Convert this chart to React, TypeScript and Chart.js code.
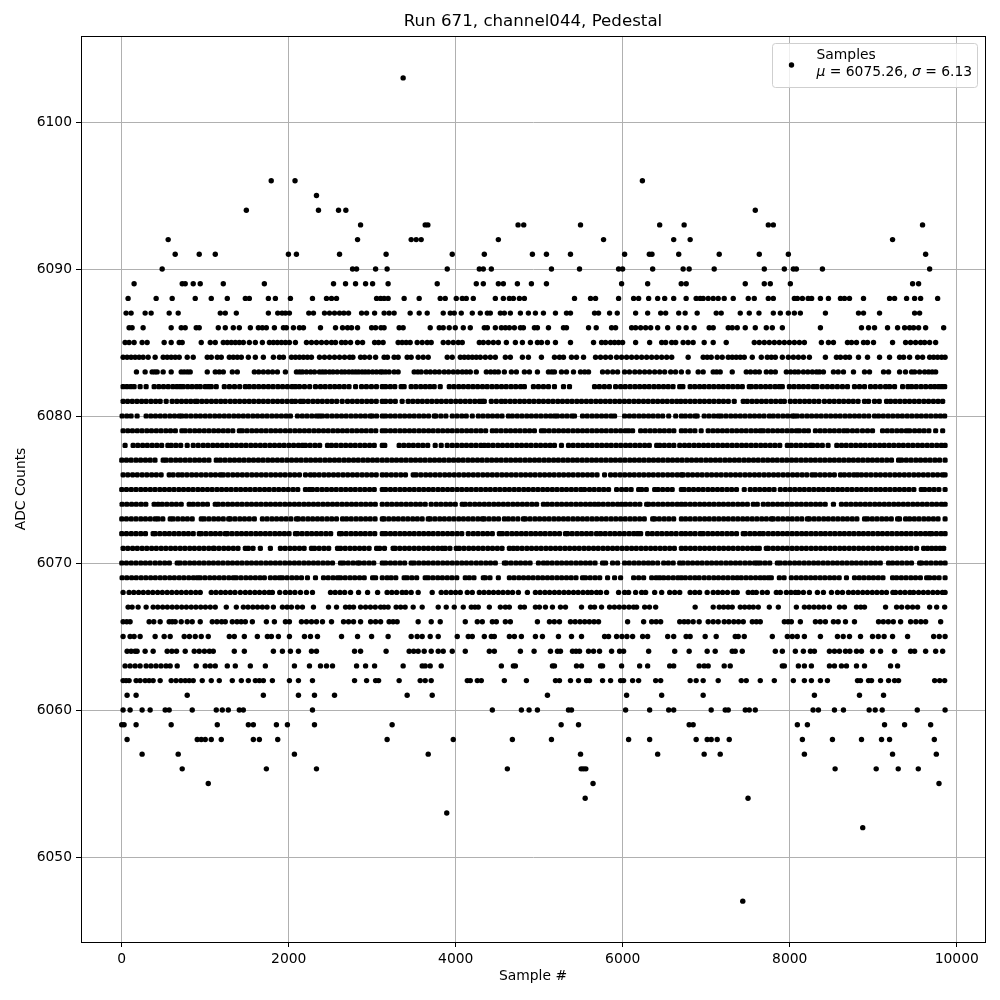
import React, { useEffect, useRef } from "react";
import { Chart, registerables } from "chart.js";

Chart.register(...registerables);

const titleText = "Run 671, channel044, Pedestal";
const xLabel = "Sample #";
const yLabel = "ADC Counts";
const xTicks = [0, 2000, 4000, 6000, 8000, 10000];
const yTicks = [6050, 6060, 6070, 6080, 6090, 6100];
const seriesName = "Samples";

const adc6103 = [3370];
const adc6096 = [1790, 2075, 6235];
const adc6095 = [2332];
const adc6094 = [1492, 2356, 2596, 2684, 7587];
const adc6093 = [2860, 3634, 3666, 4746, 4814, 5494, 6442, 6735, 7743, 7803, 9590];
const adc6092 = [556, 2824, 3466, 3526, 3586, 4510, 5770, 6610, 6807, 9231];
const adc6091 = [640, 928, 1120, 1996, 2092, 2608, 3166, 3958, 4342, 4918, 5086, 5374, 6022, 6318, 6350, 6670, 7155, 7635, 7983, 9627];
const adc6090 = [484, 2764, 2812, 3040, 3178, 3898, 4282, 4330, 4426, 5146, 5482, 5950, 5998, 6358, 6723, 6795, 7095, 7695, 7935, 8043, 8079, 8391, 9675];
const adc6089 = [148, 724, 760, 856, 940, 1216, 1708, 2536, 2680, 2800, 2920, 3004, 3190, 3778, 4246, 4330, 4510, 4570, 4738, 4906, 5086, 5986, 6298, 6700, 6760, 7467, 7695, 7767, 8007, 9471, 9543];
const adc6088 = [76, 412, 604, 880, 1072, 1264, 1480, 1528, 1756, 1840, 2020, 2284, 2452, 2512, 2572, 3052, 3100, 3142, 3190, 3382, 3562, 3814, 3874, 4006, 4078, 4126, 4210, 4474, 4570, 4642, 4690, 4762, 4822, 5422, 5614, 5674, 5950, 6130, 6190, 6310, 6418, 6502, 6610, 6759, 6879, 6927, 6963, 7023, 7083, 7143, 7215, 7323, 7503, 7575, 7743, 7803, 8055, 8091, 8151, 8220, 8262, 8367, 8463, 8607, 8655, 8715, 8883, 9195, 9255, 9399, 9495, 9567, 9771];
const adc6087 = [52, 112, 280, 352, 568, 676, 1180, 1240, 1372, 1756, 1868, 1920, 1960, 2008, 2240, 2296, 2428, 2488, 2548, 2608, 2660, 2716, 2872, 2932, 3028, 3142, 3202, 3262, 3454, 3562, 3658, 3850, 3934, 3982, 4066, 4198, 4294, 4378, 4414, 4534, 4582, 4654, 4774, 4870, 4954, 5050, 5194, 5326, 5374, 5662, 5710, 5842, 5934, 6154, 6298, 6454, 6514, 6670, 6747, 6891, 7119, 7179, 7407, 7515, 7631, 7803, 7887, 7983, 8055, 8127, 8427, 8823, 8883, 9075, 9495, 9555];
const adc6086 = [88, 124, 256, 592, 712, 760, 892, 928, 1156, 1240, 1336, 1408, 1540, 1636, 1684, 1732, 1828, 1936, 1972, 2056, 2128, 2176, 2380, 2560, 2644, 2704, 2752, 2824, 2992, 3040, 3104, 3142, 3322, 3370, 3694, 3802, 3850, 3922, 3994, 4090, 4174, 4342, 4378, 4474, 4546, 4594, 4642, 4702, 4774, 4810, 4942, 4978, 5110, 5290, 5326, 5590, 5682, 5866, 5914, 6106, 6154, 6214, 6274, 6334, 6418, 6538, 6670, 6759, 6855, 7035, 7083, 7263, 7311, 7371, 7467, 7587, 7719, 7791, 7911, 8367, 8859, 8943, 9015, 9171, 9291, 9375, 9435, 9483, 9543, 9627, 9843];
const adc6085 = [40, 88, 148, 244, 304, 508, 592, 688, 724, 952, 1060, 1120, 1216, 1264, 1312, 1360, 1408, 1456, 1528, 1600, 1684, 1768, 1816, 1864, 1912, 1960, 2008, 2080, 2212, 2272, 2332, 2392, 2452, 2512, 2560, 2632, 2680, 2740, 2824, 2884, 3028, 3076, 3130, 3310, 3358, 3406, 3454, 3538, 3598, 3658, 3706, 3850, 3910, 3970, 4030, 4078, 4282, 4330, 4390, 4450, 4510, 4606, 4714, 4798, 4894, 4978, 5026, 5098, 5194, 5374, 5650, 5746, 5794, 5854, 5902, 5950, 5998, 6154, 6322, 6466, 6514, 6586, 6634, 6723, 6783, 6843, 6975, 7083, 7239, 7575, 7635, 7695, 7755, 7815, 7875, 7935, 7995, 8055, 8115, 8175, 8379, 8463, 8523, 8691, 8739, 8799, 8883, 8931, 9003, 9231, 9387, 9447, 9507, 9567, 9615, 9675, 9747];
const adc6084 = [16, 64, 112, 160, 208, 256, 316, 400, 496, 544, 592, 640, 688, 784, 856, 1024, 1072, 1144, 1192, 1288, 1336, 1384, 1432, 1516, 1600, 1696, 1816, 1888, 1936, 2032, 2080, 2128, 2176, 2224, 2272, 2368, 2428, 2488, 2548, 2608, 2668, 2728, 2768, 2860, 2908, 2968, 3040, 3142, 3182, 3262, 3310, 3418, 3466, 3550, 3610, 3670, 3898, 3958, 4054, 4102, 4150, 4198, 4246, 4294, 4354, 4414, 4474, 4594, 4654, 4798, 4870, 5026, 5182, 5242, 5290, 5386, 5446, 5530, 5674, 5734, 5794, 5854, 5926, 5986, 6046, 6106, 6166, 6226, 6286, 6346, 6406, 6466, 6526, 6586, 6783, 6963, 7011, 7059, 7131, 7191, 7263, 7311, 7359, 7407, 7455, 7551, 7659, 7731, 7779, 7827, 7911, 7983, 8043, 8103, 8163, 8235, 8427, 8559, 8607, 8667, 8715, 8823, 8931, 9075, 9195, 9315, 9363, 9435, 9531, 9591, 9675, 9723, 9771, 9819, 9860];
const adc6083 = [176, 280, 364, 396, 424, 496, 592, 712, 748, 786, 820, 1024, 1120, 1168, 1216, 1324, 1384, 1588, 1640, 1696, 1752, 1806, 1864, 1960, 2092, 2130, 2164, 2212, 2262, 2308, 2368, 2404, 2440, 2488, 2530, 2580, 2632, 2672, 2720, 2762, 2800, 2836, 2878, 2916, 2956, 3004, 3050, 3096, 3122, 3160, 3202, 3262, 3310, 3502, 3546, 3586, 3646, 3696, 3750, 3802, 3862, 3914, 3970, 4024, 4078, 4126, 4174, 4246, 4366, 4418, 4466, 4510, 4582, 4666, 4726, 4822, 4882, 4978, 5110, 5150, 5182, 5266, 5326, 5410, 5494, 5544, 5590, 5758, 5818, 5880, 5938, 6022, 6080, 6144, 6202, 6262, 6320, 6382, 6442, 6502, 6574, 6632, 6702, 6783, 6903, 6963, 7083, 7124, 7167, 7311, 7479, 7530, 7586, 7635, 7719, 7774, 7827, 7959, 8010, 8060, 8103, 8163, 8216, 8270, 8320, 8355, 8403, 8523, 8580, 8643, 8763, 8895, 8955, 9123, 9183, 9315, 9386, 9459, 9495, 9555, 9615, 9663, 9706, 9747];
const adc6082 = [16, 62, 108, 148, 220, 292, 388, 444, 500, 556, 612, 660, 700, 736, 790, 842, 896, 940, 1000, 1040, 1072, 1132, 1228, 1290, 1350, 1412, 1480, 1528, 1584, 1640, 1698, 1756, 1812, 1870, 1926, 1984, 2040, 2080, 2128, 2188, 2250, 2320, 2380, 2436, 2494, 2550, 2606, 2664, 2722, 2800, 2872, 2930, 2990, 3050, 3120, 3160, 3216, 3270, 3346, 3382, 3466, 3522, 3580, 3636, 3690, 3742, 3814, 3922, 3978, 4036, 4092, 4150, 4206, 4262, 4320, 4376, 4434, 4490, 4548, 4604, 4662, 4718, 4776, 4822, 4930, 4990, 5050, 5110, 5182, 5290, 5362, 5662, 5720, 5780, 5840, 5914, 5974, 6030, 6088, 6146, 6202, 6260, 6316, 6374, 6430, 6488, 6544, 6602, 6682, 6720, 6807, 6862, 6920, 6976, 7034, 7090, 7148, 7204, 7262, 7318, 7376, 7432, 7515, 7540, 7596, 7652, 7710, 7766, 7824, 7875, 7911, 7995, 8050, 8108, 8164, 8222, 8283, 8327, 8391, 8451, 8510, 8570, 8631, 8691, 8775, 8835, 8895, 8967, 9025, 9085, 9147, 9195, 9255, 9351, 9415, 9459, 9515, 9572, 9628, 9686, 9735, 9783, 9820, 9855];
const adc6081 = [16, 70, 126, 182, 238, 292, 350, 406, 460, 532, 604, 660, 716, 772, 826, 880, 904, 960, 1016, 1074, 1130, 1186, 1240, 1300, 1356, 1412, 1470, 1526, 1582, 1640, 1696, 1752, 1810, 1866, 1922, 1980, 2036, 2080, 2140, 2176, 2232, 2290, 2346, 2402, 2460, 2516, 2574, 2640, 2704, 2762, 2820, 2876, 2934, 2990, 3048, 3120, 3160, 3218, 3276, 3358, 3430, 3486, 3544, 3600, 3658, 3714, 3772, 3828, 3886, 3942, 4000, 4056, 4114, 4170, 4228, 4284, 4318, 4342, 4426, 4486, 4546, 4594, 4652, 4708, 4766, 4822, 4880, 4936, 4994, 5050, 5108, 5164, 5222, 5278, 5336, 5392, 5450, 5506, 5564, 5620, 5678, 5734, 5792, 5848, 5906, 5962, 6020, 6076, 6134, 6190, 6248, 6304, 6362, 6418, 6476, 6532, 6590, 6646, 6695, 6750, 6808, 6864, 6922, 6978, 7036, 7092, 7150, 7206, 7264, 7335, 7443, 7491, 7548, 7604, 7662, 7718, 7776, 7832, 7890, 7935, 8007, 8064, 8120, 8178, 8234, 8292, 8348, 8415, 8475, 8532, 8590, 8646, 8704, 8760, 8818, 8895, 8943, 9015, 9072, 9159, 9207, 9264, 9320, 9378, 9434, 9492, 9548, 9606, 9662, 9720, 9776, 9831];
const adc6080 = [4, 60, 112, 184, 292, 348, 404, 462, 518, 576, 632, 688, 720, 772, 828, 886, 942, 1000, 1056, 1114, 1170, 1228, 1284, 1342, 1398, 1456, 1512, 1570, 1626, 1684, 1740, 1798, 1854, 1912, 1968, 2020, 2104, 2162, 2218, 2276, 2332, 2368, 2404, 2460, 2518, 2574, 2632, 2688, 2746, 2802, 2860, 2916, 2974, 3000, 3052, 3120, 3160, 3218, 3274, 3332, 3388, 3446, 3502, 3560, 3616, 3674, 3742, 3762, 3822, 3882, 3958, 4014, 4072, 4126, 4198, 4270, 4326, 4384, 4440, 4498, 4554, 4630, 4678, 4736, 4792, 4850, 4906, 4964, 5020, 5078, 5134, 5182, 5218, 5276, 5332, 5390, 5422, 5518, 5574, 5632, 5688, 5746, 5802, 5860, 5902, 6022, 6080, 6136, 6194, 6250, 6308, 6364, 6422, 6478, 6550, 6634, 6702, 6750, 6808, 6864, 6891, 6975, 7032, 7090, 7143, 7179, 7236, 7294, 7350, 7408, 7464, 7522, 7578, 7636, 7692, 7755, 7803, 7860, 7918, 7974, 8032, 8055, 8091, 8148, 8206, 8262, 8320, 8376, 8434, 8490, 8548, 8604, 8662, 8718, 8776, 8832, 8890, 8946, 9015, 9063, 9120, 9178, 9234, 9292, 9348, 9406, 9462, 9520, 9576, 9634, 9690, 9748, 9804, 9855];
const adc6079 = [16, 72, 128, 186, 242, 300, 356, 414, 470, 528, 584, 642, 720, 760, 816, 874, 930, 988, 1044, 1102, 1158, 1216, 1272, 1330, 1408, 1444, 1500, 1558, 1614, 1672, 1728, 1786, 1842, 1900, 1960, 2016, 2074, 2130, 2188, 2244, 2302, 2358, 2416, 2472, 2530, 2586, 2644, 2700, 2758, 2814, 2872, 2928, 2986, 3042, 3120, 3160, 3218, 3274, 3332, 3388, 3446, 3502, 3560, 3616, 3674, 3730, 3788, 3844, 3902, 3958, 4016, 4072, 4130, 4186, 4244, 4300, 4358, 4438, 4486, 4542, 4600, 4656, 4714, 4770, 4828, 4884, 4942, 5026, 5062, 5118, 5176, 5232, 5290, 5346, 5404, 5460, 5518, 5574, 5632, 5688, 5746, 5802, 5860, 5916, 5974, 6030, 6070, 6118, 6214, 6270, 6328, 6384, 6442, 6498, 6556, 6612, 6702, 6750, 6808, 6864, 6939, 7023, 7080, 7136, 7194, 7250, 7308, 7364, 7422, 7478, 7536, 7592, 7647, 7683, 7740, 7796, 7854, 7910, 7968, 8024, 8079, 8115, 8172, 8223, 8307, 8364, 8420, 8478, 8534, 8592, 8648, 8691, 8751, 8808, 8871, 8931, 8991, 9111, 9168, 9224, 9282, 9338, 9396, 9435, 9495, 9552, 9608, 9666, 9747, 9831];
const adc6078 = [40, 136, 192, 250, 306, 364, 420, 478, 552, 592, 648, 706, 784, 856, 916, 976, 1032, 1090, 1146, 1204, 1260, 1318, 1374, 1432, 1488, 1546, 1602, 1660, 1716, 1774, 1830, 1888, 1944, 2002, 2058, 2116, 2164, 2200, 2256, 2314, 2370, 2464, 2512, 2568, 2626, 2682, 2740, 2796, 2854, 2910, 2968, 3024, 3120, 3150, 3322, 3378, 3436, 3492, 3550, 3606, 3664, 3754, 3826, 3898, 3958, 4014, 4072, 4128, 4186, 4242, 4300, 4342, 4390, 4446, 4504, 4560, 4618, 4674, 4732, 4788, 4846, 4902, 4960, 5016, 5074, 5130, 5182, 5266, 5350, 5406, 5464, 5520, 5578, 5634, 5692, 5748, 5806, 5862, 5920, 5976, 6034, 6090, 6148, 6204, 6262, 6318, 6406, 6442, 6498, 6556, 6612, 6682, 6740, 6796, 6854, 6910, 6968, 7024, 7082, 7138, 7196, 7252, 7310, 7366, 7424, 7480, 7538, 7594, 7652, 7708, 7766, 7822, 7880, 7971, 8019, 8076, 8132, 8190, 8247, 8275, 8332, 8390, 8459, 8563, 8620, 8676, 8734, 8790, 8848, 8904, 8962, 9018, 9076, 9132, 9190, 9246, 9304, 9360, 9418, 9474, 9532, 9588, 9646, 9702, 9760, 9816, 9860];
const adc6077 = [0, 56, 112, 170, 226, 284, 340, 398, 496, 532, 588, 646, 702, 760, 816, 874, 930, 988, 1044, 1132, 1180, 1236, 1294, 1350, 1408, 1464, 1522, 1578, 1636, 1692, 1750, 1806, 1864, 1920, 1978, 2034, 2092, 2148, 2206, 2262, 2320, 2376, 2434, 2490, 2548, 2604, 2662, 2718, 2776, 2832, 2890, 2946, 3004, 3060, 3120, 3176, 3234, 3290, 3348, 3404, 3462, 3518, 3576, 3632, 3690, 3746, 3804, 3860, 3918, 3974, 4032, 4088, 4146, 4202, 4260, 4316, 4374, 4430, 4488, 4544, 4602, 4658, 4716, 4772, 4830, 4886, 4944, 5000, 5058, 5114, 5172, 5228, 5286, 5342, 5400, 5456, 5514, 5570, 5628, 5684, 5742, 5798, 5856, 5912, 5970, 6026, 6084, 6140, 6198, 6254, 6312, 6368, 6426, 6482, 6540, 6596, 6654, 6710, 6768, 6824, 6882, 6938, 6996, 7052, 7110, 7166, 7224, 7280, 7338, 7394, 7452, 7508, 7566, 7622, 7680, 7736, 7794, 7850, 7908, 7964, 8022, 8078, 8136, 8192, 8250, 8306, 8364, 8420, 8478, 8534, 8592, 8648, 8706, 8762, 8820, 8876, 8934, 8990, 9048, 9104, 9162, 9218, 9303, 9339, 9396, 9452, 9510, 9566, 9624, 9680, 9738, 9794, 9860];
const adc6076 = [16, 72, 130, 186, 244, 300, 358, 414, 472, 568, 616, 676, 724, 780, 838, 894, 952, 1008, 1066, 1122, 1180, 1216, 1272, 1330, 1386, 1444, 1500, 1558, 1614, 1672, 1728, 1786, 1842, 1900, 1956, 2014, 2070, 2128, 2200, 2260, 2308, 2364, 2422, 2478, 2536, 2592, 2650, 2706, 2764, 2820, 2878, 2934, 2992, 3048, 3120, 3170, 3228, 3284, 3342, 3398, 3490, 3526, 3582, 3640, 3696, 3754, 3810, 3868, 3924, 3982, 4038, 4096, 4152, 4210, 4266, 4324, 4380, 4438, 4494, 4552, 4608, 4666, 4722, 4780, 4836, 4894, 4950, 5008, 5064, 5122, 5178, 5236, 5292, 5350, 5406, 5464, 5520, 5578, 5634, 5692, 5782, 5854, 5910, 5968, 6024, 6082, 6138, 6196, 6252, 6310, 6366, 6424, 6480, 6538, 6594, 6652, 6702, 6723, 6780, 6836, 6894, 6950, 7008, 7064, 7122, 7178, 7236, 7292, 7350, 7406, 7464, 7520, 7578, 7634, 7692, 7748, 7806, 7862, 7920, 7976, 8034, 8090, 8148, 8204, 8267, 8307, 8364, 8420, 8478, 8534, 8607, 8655, 8712, 8768, 8811, 8859, 8916, 8972, 9030, 9086, 9144, 9200, 9258, 9314, 9372, 9428, 9486, 9542, 9600, 9656, 9714, 9770, 9828, 9860];
const adc6075 = [0, 56, 114, 170, 228, 284, 342, 398, 456, 512, 570, 626, 684, 740, 798, 854, 912, 968, 1026, 1082, 1140, 1196, 1254, 1310, 1368, 1424, 1482, 1538, 1596, 1652, 1710, 1766, 1824, 1880, 1938, 1994, 2052, 2108, 2200, 2248, 2284, 2340, 2398, 2454, 2512, 2568, 2626, 2682, 2740, 2796, 2854, 2910, 2968, 3024, 3120, 3160, 3218, 3274, 3332, 3388, 3446, 3502, 3560, 3616, 3674, 3730, 3788, 3844, 3902, 3958, 4016, 4072, 4130, 4186, 4244, 4300, 4358, 4414, 4472, 4528, 4586, 4642, 4700, 4756, 4814, 4870, 4928, 4984, 5042, 5098, 5156, 5212, 5270, 5326, 5384, 5440, 5498, 5542, 5602, 5658, 5716, 5772, 5830, 5926, 5986, 6042, 6100, 6190, 6226, 6282, 6382, 6422, 6478, 6536, 6592, 6702, 6735, 6792, 6848, 6906, 6962, 7020, 7076, 7134, 7190, 7248, 7304, 7362, 7455, 7527, 7584, 7640, 7698, 7754, 7812, 7887, 7947, 8004, 8060, 8118, 8174, 8232, 8288, 8346, 8402, 8460, 8516, 8574, 8630, 8688, 8744, 8802, 8858, 8916, 8972, 9030, 9086, 9144, 9200, 9258, 9314, 9372, 9428, 9486, 9575, 9615, 9672, 9728, 9786, 9860];
const adc6074 = [4, 60, 118, 174, 232, 288, 388, 436, 484, 540, 598, 654, 712, 808, 856, 912, 970, 1026, 1120, 1156, 1212, 1270, 1326, 1384, 1440, 1498, 1554, 1612, 1668, 1726, 1782, 1840, 1896, 1954, 2010, 2068, 2124, 2182, 2238, 2296, 2352, 2410, 2466, 2524, 2580, 2638, 2694, 2752, 2808, 2866, 2922, 2980, 3036, 3120, 3178, 3234, 3292, 3348, 3406, 3462, 3520, 3576, 3634, 3706, 3766, 3822, 3880, 3936, 3994, 4078, 4114, 4170, 4228, 4284, 4342, 4398, 4456, 4512, 4570, 4626, 4684, 4740, 4798, 4854, 4912, 4968, 5050, 5098, 5154, 5212, 5268, 5326, 5382, 5440, 5496, 5554, 5610, 5662, 5710, 5766, 5824, 5880, 5938, 5986, 6034, 6090, 6148, 6204, 6286, 6310, 6366, 6424, 6480, 6538, 6594, 6652, 6702, 6750, 6808, 6864, 6922, 6978, 7036, 7092, 7150, 7206, 7264, 7320, 7378, 7434, 7492, 7563, 7611, 7683, 7740, 7796, 7854, 7910, 7968, 8024, 8082, 8138, 8196, 8252, 8310, 8366, 8424, 8523, 8619, 8676, 8732, 8790, 8846, 8904, 8960, 9018, 9074, 9132, 9188, 9246, 9302, 9360, 9416, 9474, 9530, 9588, 9644, 9702, 9758, 9816, 9860];
const adc6073 = [0, 56, 114, 170, 228, 284, 342, 400, 436, 492, 580, 616, 672, 730, 786, 844, 952, 988, 1044, 1102, 1158, 1216, 1280, 1300, 1356, 1414, 1470, 1528, 1588, 1684, 1740, 1798, 1854, 1912, 1968, 2026, 2092, 2116, 2172, 2230, 2286, 2344, 2400, 2458, 2514, 2572, 2644, 2692, 2748, 2806, 2862, 2920, 2976, 3034, 3120, 3142, 3198, 3256, 3312, 3370, 3426, 3484, 3540, 3598, 3670, 3694, 3750, 3808, 3864, 3922, 3978, 4036, 4092, 4150, 4206, 4264, 4318, 4342, 4398, 4456, 4512, 4582, 4630, 4686, 4744, 4810, 4834, 4890, 4948, 5004, 5062, 5118, 5176, 5232, 5290, 5346, 5404, 5460, 5518, 5574, 5632, 5688, 5746, 5802, 5860, 5916, 5974, 6030, 6088, 6144, 6202, 6258, 6358, 6382, 6438, 6496, 6552, 6610, 6702, 6752, 6808, 6866, 6922, 6980, 7036, 7094, 7150, 7208, 7264, 7322, 7378, 7436, 7492, 7550, 7606, 7664, 7720, 7779, 7803, 7860, 7916, 7974, 8030, 8088, 8144, 8211, 8235, 8292, 8348, 8406, 8462, 8520, 8576, 8634, 8690, 8748, 8804, 8895, 8931, 8988, 9044, 9102, 9158, 9216, 9291, 9315, 9387, 9435, 9492, 9548, 9606, 9662, 9720, 9776, 9860];
const adc6072 = [0, 56, 114, 170, 228, 284, 376, 400, 456, 514, 570, 628, 684, 742, 798, 856, 928, 952, 1008, 1066, 1122, 1180, 1240, 1264, 1320, 1378, 1434, 1492, 1548, 1606, 1662, 1720, 1776, 1834, 1890, 1948, 2004, 2080, 2104, 2160, 2218, 2274, 2332, 2388, 2446, 2502, 2608, 2632, 2688, 2746, 2802, 2860, 2916, 2974, 3030, 3120, 3160, 3218, 3274, 3332, 3388, 3446, 3502, 3560, 3616, 3674, 3730, 3788, 3844, 3902, 3958, 4016, 4072, 4150, 4210, 4266, 4324, 4380, 4438, 4522, 4558, 4614, 4672, 4728, 4786, 4842, 4900, 4956, 5014, 5070, 5128, 5184, 5242, 5314, 5338, 5394, 5452, 5508, 5566, 5622, 5686, 5734, 5790, 5848, 5904, 5962, 6018, 6076, 6132, 6178, 6214, 6298, 6354, 6412, 6468, 6526, 6582, 6640, 6702, 6752, 6810, 6866, 6927, 6963, 7020, 7076, 7134, 7190, 7248, 7304, 7362, 7443, 7467, 7524, 7580, 7638, 7683, 7743, 7800, 7856, 7914, 7970, 8028, 8084, 8142, 8198, 8256, 8312, 8370, 8426, 8484, 8540, 8598, 8654, 8712, 8768, 8826, 8882, 8940, 8996, 9054, 9110, 9168, 9224, 9282, 9338, 9396, 9452, 9510, 9566, 9624, 9675, 9699, 9756, 9812, 9860];
const adc6071 = [16, 72, 130, 186, 244, 300, 358, 414, 472, 528, 586, 642, 700, 756, 814, 870, 928, 984, 1042, 1096, 1108, 1164, 1222, 1278, 1336, 1392, 1480, 1516, 1572, 1660, 1780, 1900, 1956, 2014, 2070, 2128, 2184, 2272, 2308, 2364, 2422, 2478, 2584, 2620, 2676, 2734, 2790, 2848, 2904, 2962, 3052, 3088, 3146, 3250, 3274, 3330, 3388, 3444, 3502, 3558, 3616, 3672, 3730, 3786, 3838, 3874, 3930, 4006, 4042, 4098, 4156, 4212, 4270, 4326, 4384, 4440, 4498, 4554, 4642, 4690, 4738, 4794, 4852, 4908, 4966, 5022, 5080, 5136, 5194, 5250, 5308, 5364, 5422, 5478, 5536, 5592, 5650, 5706, 5764, 5820, 5878, 5934, 5992, 6048, 6106, 6162, 6220, 6276, 6334, 6390, 6448, 6504, 6562, 6618, 6702, 6752, 6810, 6866, 6924, 6980, 7038, 7094, 7152, 7208, 7266, 7322, 7380, 7436, 7494, 7550, 7599, 7635, 7719, 7743, 7800, 7856, 7914, 7970, 8028, 8084, 8142, 8198, 8256, 8312, 8370, 8426, 8484, 8540, 8598, 8654, 8712, 8768, 8826, 8882, 8940, 8996, 9054, 9110, 9168, 9224, 9282, 9338, 9396, 9452, 9519, 9603, 9650, 9700, 9750, 9800, 9843];
const adc6070 = [0, 56, 114, 170, 228, 284, 340, 400, 456, 514, 570, 664, 700, 756, 814, 870, 928, 984, 1042, 1098, 1156, 1212, 1270, 1326, 1384, 1440, 1498, 1554, 1612, 1668, 1726, 1782, 1840, 1896, 1954, 2010, 2068, 2124, 2182, 2238, 2296, 2352, 2410, 2466, 2524, 2620, 2656, 2712, 2770, 2824, 2848, 2904, 2962, 3018, 3120, 3160, 3218, 3274, 3332, 3388, 3466, 3502, 3558, 3616, 3672, 3730, 3786, 3844, 3900, 3958, 4014, 4072, 4128, 4186, 4246, 4302, 4360, 4416, 4474, 4582, 4606, 4662, 4720, 4776, 4834, 4890, 4990, 5050, 5098, 5154, 5212, 5268, 5326, 5382, 5440, 5496, 5554, 5610, 5668, 5758, 5794, 5878, 5938, 6022, 6078, 6136, 6192, 6250, 6306, 6358, 6418, 6490, 6546, 6604, 6682, 6723, 6780, 6836, 6894, 6950, 7008, 7064, 7122, 7178, 7236, 7292, 7350, 7406, 7464, 7520, 7578, 7611, 7647, 7704, 7760, 7851, 7887, 7944, 8000, 8058, 8114, 8172, 8228, 8286, 8342, 8400, 8456, 8514, 8570, 8628, 8684, 8742, 8798, 8856, 8912, 8970, 9026, 9084, 9183, 9231, 9288, 9344, 9402, 9458, 9555, 9579, 9636, 9692, 9750, 9806, 9860];
const adc6069 = [4, 60, 118, 174, 232, 288, 346, 402, 460, 516, 574, 630, 688, 744, 802, 858, 904, 940, 996, 1054, 1110, 1168, 1224, 1282, 1336, 1372, 1428, 1486, 1542, 1600, 1656, 1708, 1780, 1836, 1888, 1924, 1980, 2038, 2094, 2152, 2224, 2320, 2416, 2472, 2530, 2584, 2620, 2676, 2734, 2790, 2848, 2904, 3004, 3040, 3120, 3178, 3226, 3282, 3382, 3418, 3474, 3532, 3634, 3670, 3726, 3784, 3840, 3898, 3954, 4012, 4114, 4162, 4218, 4330, 4354, 4410, 4510, 4642, 4698, 4756, 4812, 4870, 4926, 4984, 5040, 5098, 5154, 5212, 5268, 5326, 5382, 5440, 5518, 5554, 5610, 5668, 5724, 5818, 5902, 5974, 6130, 6190, 6250, 6346, 6400, 6442, 6490, 6546, 6604, 6660, 6702, 6750, 6808, 6864, 6915, 6975, 7032, 7090, 7146, 7204, 7260, 7318, 7371, 7419, 7476, 7532, 7590, 7646, 7695, 7743, 7779, 7875, 7932, 8019, 8079, 8136, 8192, 8250, 8306, 8364, 8420, 8478, 8534, 8592, 8679, 8775, 8832, 8888, 8946, 9002, 9060, 9116, 9231, 9279, 9336, 9392, 9450, 9506, 9564, 9639, 9675, 9732, 9788, 9860];
const adc6068 = [16, 88, 144, 202, 258, 316, 372, 430, 486, 544, 600, 658, 714, 772, 828, 886, 940, 1072, 1128, 1186, 1242, 1300, 1356, 1420, 1480, 1536, 1594, 1650, 1708, 1764, 1804, 1892, 1960, 2016, 2074, 2140, 2212, 2284, 2500, 2556, 2614, 2670, 2740, 2836, 2944, 3064, 3178, 3234, 3292, 3358, 3406, 3466, 3550, 3718, 3826, 3884, 3942, 3998, 4054, 4138, 4198, 4282, 4338, 4396, 4452, 4510, 4566, 4624, 4680, 4750, 4858, 4954, 5010, 5068, 5124, 5182, 5238, 5296, 5352, 5410, 5466, 5524, 5580, 5626, 5686, 5734, 5806, 5950, 6022, 6070, 6154, 6226, 6274, 6382, 6466, 6562, 6622, 6682, 6807, 6864, 6920, 7011, 7083, 7140, 7196, 7254, 7323, 7371, 7503, 7555, 7599, 7671, 7731, 7839, 7887, 7959, 8014, 8067, 8103, 8163, 8235, 8331, 8403, 8499, 8571, 8631, 8703, 8760, 8816, 8874, 8930, 8988, 9044, 9102, 9158, 9235, 9267, 9324, 9380, 9438, 9483, 9543, 9600, 9656, 9714, 9770, 9828, 9860];
const adc6067 = [76, 124, 196, 292, 376, 432, 490, 546, 604, 660, 718, 774, 832, 888, 946, 1002, 1060, 1120, 1252, 1372, 1456, 1512, 1570, 1626, 1684, 1740, 1816, 1924, 1980, 2032, 2104, 2164, 2296, 2476, 2572, 2680, 2728, 2776, 2860, 2920, 2978, 3036, 3100, 3142, 3190, 3286, 3340, 3394, 3490, 3598, 3790, 3886, 3982, 4090, 4186, 4230, 4270, 4402, 4534, 4594, 4642, 4774, 4822, 4954, 5002, 5074, 5158, 5254, 5314, 5506, 5614, 5662, 5746, 5842, 5900, 5958, 6016, 6074, 6130, 6166, 6262, 6320, 6394, 6867, 7083, 7155, 7208, 7262, 7311, 7407, 7460, 7514, 7563, 7623, 7755, 7863, 8079, 8175, 8232, 8290, 8348, 8406, 8475, 8595, 8655, 8799, 8850, 8895, 9147, 9279, 9340, 9411, 9471, 9531, 9675, 9759, 9855];
const adc6066 = [16, 60, 100, 328, 384, 460, 568, 604, 640, 712, 784, 844, 940, 1084, 1140, 1196, 1240, 1324, 1380, 1430, 1480, 1564, 1732, 1828, 1960, 2008, 2152, 2212, 2272, 2332, 2404, 2512, 2656, 2716, 2776, 2860, 2980, 3040, 3100, 3202, 3250, 3298, 3550, 3706, 3814, 4114, 4258, 4318, 4438, 4486, 4594, 4654, 4978, 5122, 5180, 5242, 5374, 5430, 5488, 5544, 5600, 5656, 5710, 6058, 6250, 6346, 6400, 6454, 6682, 6735, 6783, 6843, 6915, 7023, 7083, 7143, 7215, 7270, 7330, 7386, 7443, 7551, 7600, 7647, 7935, 7980, 8019, 8127, 8307, 8365, 8427, 8523, 8580, 8667, 8775, 9063, 9120, 9180, 9240, 9327, 9447, 9510, 9570, 9627, 9807];
const adc6065 = [16, 100, 148, 220, 400, 508, 580, 748, 810, 880, 952, 1036, 1288, 1348, 1468, 1624, 1744, 1792, 1876, 2008, 2188, 2260, 2344, 2632, 2824, 2992, 3190, 3466, 3538, 3598, 3694, 3790, 4018, 4150, 4198, 4342, 4426, 4462, 4642, 4702, 4786, 4954, 5038, 5230, 5386, 5506, 5782, 5830, 5926, 5990, 6050, 6118, 6238, 6298, 6538, 6610, 6759, 6807, 6987, 7119, 7347, 7383, 7455, 7791, 7971, 8030, 8090, 8175, 8367, 8571, 8640, 8715, 8847, 8991, 9060, 9130, 9231, 9411, 9723, 9790, 9860];
const adc6064 = [64, 112, 160, 184, 280, 376, 544, 600, 656, 760, 868, 928, 990, 1050, 1096, 1348, 1468, 1816, 1924, 2020, 2116, 2272, 2332, 2788, 2860, 3166, 3442, 3496, 3550, 3622, 3706, 3790, 3850, 3958, 4114, 4402, 4462, 4774, 4938, 5134, 5218, 5254, 5398, 5440, 5482, 5590, 5650, 5722, 5866, 5962, 6010, 6310, 6622, 6795, 7011, 7107, 7311, 7347, 7431, 7827, 7911, 8067, 8163, 8247, 8295, 8475, 8535, 8595, 8667, 8720, 8799, 8859, 8991, 9087, 9255, 9447, 9495, 9627, 9747, 9831];
const adc6063 = [40, 100, 160, 220, 292, 350, 410, 470, 530, 580, 664, 892, 1000, 1060, 1120, 1264, 1360, 1540, 1720, 2068, 2248, 2380, 2452, 2524, 2812, 2920, 3028, 3370, 3598, 3634, 3694, 3826, 4546, 4690, 4714, 5158, 5182, 5446, 5506, 5734, 5758, 5986, 6202, 6298, 6562, 6610, 6915, 6975, 7023, 7215, 7287, 7911, 7935, 8103, 8175, 8259, 8475, 8535, 8619, 8679, 8799, 8895, 9207, 9291];
const adc6062 = [16, 52, 88, 172, 220, 280, 328, 376, 460, 592, 650, 708, 760, 808, 856, 964, 1072, 1168, 1324, 1432, 1516, 1600, 1648, 1696, 1804, 2008, 2116, 2284, 2788, 2932, 3040, 3076, 3322, 3574, 3634, 3706, 4138, 4174, 4258, 4306, 4582, 4846, 5194, 5242, 5374, 5470, 5566, 5602, 5758, 5854, 5974, 6010, 6118, 6190, 6394, 6454, 6807, 6879, 6963, 7143, 7419, 7479, 7647, 7815, 8043, 8175, 8259, 8367, 8451, 8811, 8847, 8943, 8979, 9087, 9183, 9255, 9303, 9735, 9795, 9855];
const adc6061 = [64, 172, 784, 1696, 2116, 2308, 2548, 3418, 3718, 5098, 6046, 6466, 6963, 8295, 8835, 9123];
const adc6060 = [16, 100, 244, 340, 520, 568, 844, 1132, 1204, 1276, 1408, 1456, 2284, 4438, 4786, 4878, 4978, 5350, 5386, 6034, 6322, 6550, 6610, 7059, 7227, 7263, 7467, 7515, 7587, 8279, 8343, 8535, 8643, 8951, 9023, 9107, 9527, 9860];
const adc6059 = [0, 28, 172, 592, 1144, 1516, 1576, 1852, 1984, 2308, 3238, 5262, 5470, 6795, 6843, 8091, 8211, 9135, 9375, 9687];
const adc6058 = [64, 904, 952, 1000, 1072, 1192, 1576, 1648, 1868, 3178, 3970, 4678, 5146, 6070, 6322, 6879, 7011, 7059, 7131, 7275, 8151, 8511, 8859, 9099, 9195, 9731];
const adc6057 = [244, 676, 2068, 3670, 5494, 6418, 6975, 7167, 8175, 9231, 9755];
const adc6056 = [724, 1732, 2332, 4618, 5502, 5530, 5558, 8543, 9035, 9299, 9539];
const adc6055 = [1036, 5644, 9787];
const adc6054 = [5550, 7500];
const adc6053 = [3892];
const adc6052 = [8874];
const adc6047 = [7437];

const adcLevels = [6103, 6096, 6095, 6094, 6093, 6092, 6091, 6090, 6089, 6088, 6087, 6086, 6085, 6084, 6083, 6082, 6081, 6080, 6079, 6078, 6077, 6076, 6075, 6074, 6073, 6072, 6071, 6070, 6069, 6068, 6067, 6066, 6065, 6064, 6063, 6062, 6061, 6060, 6059, 6058, 6057, 6056, 6055, 6054, 6053, 6052, 6047];
const sampleRows = [adc6103, adc6096, adc6095, adc6094, adc6093, adc6092, adc6091, adc6090, adc6089, adc6088, adc6087, adc6086, adc6085, adc6084, adc6083, adc6082, adc6081, adc6080, adc6079, adc6078, adc6077, adc6076, adc6075, adc6074, adc6073, adc6072, adc6071, adc6070, adc6069, adc6068, adc6067, adc6066, adc6065, adc6064, adc6063, adc6062, adc6061, adc6060, adc6059, adc6058, adc6057, adc6056, adc6055, adc6054, adc6053, adc6052, adc6047];

const points = sampleRows.flatMap((row, i) => row.map((x) => ({ x, y: adcLevels[i] })));

const FONT = '"DejaVu Sans", sans-serif';

const isDenseRow = (v: number) => v >= 6069 && v <= 6082;

const frameAndLegend = {
  id: "frameAndLegend",
  afterDraw(chart: any) {
    const { ctx, chartArea: a } = chart;
    ctx.save();
    ctx.strokeStyle = "#000";
    ctx.lineWidth = 1;
    ctx.strokeRect(Math.round(a.left) + 0.5, Math.round(a.top) + 0.5, Math.round(a.right - a.left), Math.round(a.bottom - a.top));

    const bx = 772.5, by = 43.5, bw = 205, bh = 44;
    ctx.beginPath();
    ctx.roundRect(bx, by, bw, bh, 3);
    ctx.fillStyle = "rgba(255,255,255,0.8)";
    ctx.fill();
    ctx.strokeStyle = "#cfcfcf";
    ctx.stroke();

    ctx.fillStyle = "#000";
    ctx.beginPath();
    ctx.arc(791.5, 65, 2.7, 0, Math.PI * 2);
    ctx.fill();

    ctx.textBaseline = "alphabetic";
    ctx.textAlign = "left";
    ctx.font = `13.89px ${FONT}`;
    ctx.fillText(seriesName, 816.5, 59);
    const runs: [string, boolean][] = [["μ", true], [" = 6075.26, ", false], ["σ", true], [" = 6.13", false]];
    let x = 816.5;
    for (const [t, it] of runs) {
      ctx.font = `${it ? "italic " : ""}13.89px ${FONT}`;
      ctx.fillText(t, x, 76);
      x += ctx.measureText(t).width;
    }
    ctx.restore();
  },
};

export default function App() {
  const ref = useRef<HTMLCanvasElement | null>(null);
  useEffect(() => {
    document.body.style.margin = "0";
    const chart = new Chart(ref.current as HTMLCanvasElement, {
      type: "scatter",
      data: {
        datasets: [
          {
            label: seriesName,
            data: points,
            backgroundColor: "#000",
            borderWidth: 0,
            pointStyle: (c: any) => (isDenseRow(c.raw?.y) ? "rectRounded" : "circle"),
            pointRadius: (c: any) => (isDenseRow(c.raw?.y) ? 3 : 2.7),
            pointHoverRadius: 2.7,
          },
        ],
      },
      options: {
        animation: false,
        responsive: false,
        layout: { padding: { right: 15 } },
        plugins: {
          legend: { display: false },
          tooltip: { enabled: false },
          title: {
            display: true,
            text: titleText,
            fullSize: false,
            color: "#000",
            font: { family: FONT, size: 16.67, weight: "normal", lineHeight: 1.2 },
            padding: { top: 12, bottom: 4 },
          },
        },
        scales: {
          x: {
            type: "linear",
            min: -488,
            max: 10338,
            afterBuildTicks(s: any) {
              s.ticks = xTicks.map((value) => ({ value }));
            },
            afterFit(s: any) {
              s.height = 58;
            },
            grid: { color: "#b0b0b0", lineWidth: 1, tickColor: "#000", tickLength: 5 },
            border: { color: "#000" },
            ticks: {
              color: "#000",
              font: { family: FONT, size: 13.89 },
              padding: 4,
              maxRotation: 0,
              callback: (v: any) => String(v),
            },
            title: {
              display: true,
              text: xLabel,
              color: "#000",
              font: { family: FONT, size: 13.89 },
              padding: { top: 0, bottom: 15 },
            },
          },
          y: {
            type: "linear",
            min: 6044.22,
            max: 6105.85,
            afterBuildTicks(s: any) {
              s.ticks = yTicks.map((value) => ({ value }));
            },
            afterFit(s: any) {
              s.width = 81;
            },
            grid: { color: "#b0b0b0", lineWidth: 1, tickColor: "#000", tickLength: 5 },
            border: { color: "#000" },
            ticks: {
              color: "#000",
              font: { family: FONT, size: 13.89 },
              padding: 4,
              callback: (v: any) => String(v),
            },
            title: {
              display: true,
              text: yLabel,
              color: "#000",
              font: { family: FONT, size: 13.89 },
              padding: { top: 13, bottom: 0 },
            },
          },
        },
      },
      plugins: [frameAndLegend],
    } as any);
    return () => chart.destroy();
  }, []);
  return <canvas ref={ref} width={1000} height={1000} style={{ display: "block" }} />;
}
